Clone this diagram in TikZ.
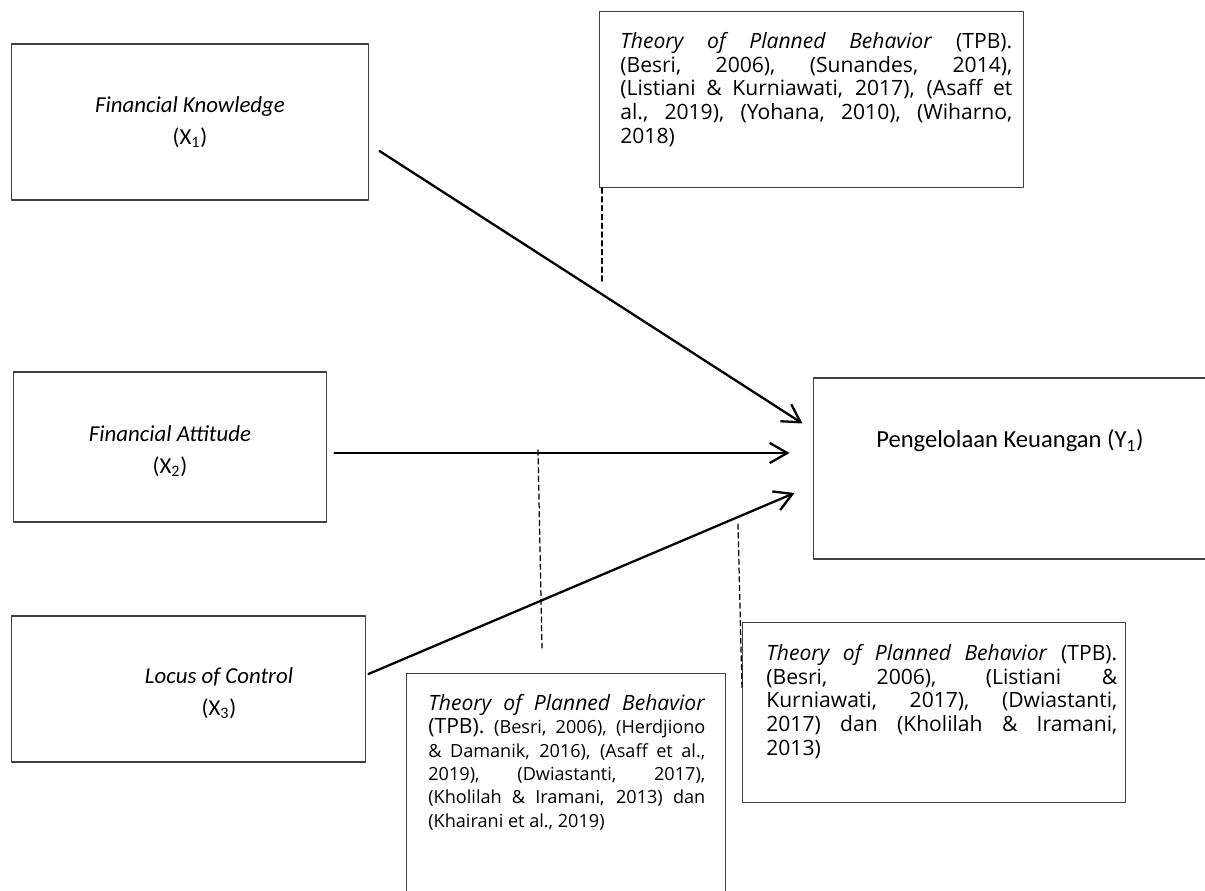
\documentclass[tikz,border=0pt]{standalone}
\usepackage{fontspec}
\setmainfont{Open Sans}
\newfontfamily\VarFont{Carlito}
\usepackage{xcolor}
\usepackage{tikz}
\usetikzlibrary{arrows.meta,positioning}
\definecolor{frame}{HTML}{404040}
\tikzset{
  VarText/.style={
    align=center, inner sep=0pt,
    font=\VarFont\fontsize{13}{18}\selectfont
  },
  VarBox/.style={VarText, draw=frame, line width=0.6pt},
  CiteBox/.style={draw=frame, line width=0.6pt, anchor=north west, inner sep=0pt},
  CiteText/.style={
    anchor=north west, inner sep=0pt,
    font=\fontsize{12}{13.5}\selectfont
  },
  PathArrow/.style={-{Straight Barb[length=10pt,width=11.5pt]}, line width=1.3pt},
  GuideLine/.style={line width=0.7pt, dash pattern=on 3pt off 2pt}
}
% one justified line of a citation box
\newcommand{\JustLine}[1]{\makebox[\linewidth][s]{#1}}
\newcommand{\CiteSmall}{\fontsize{10.3}{13.3}\selectfont}

\begin{document}
\begin{tikzpicture}[x=0.02cm, y=-0.02cm, line cap=round, line join=round]
  \useasboundingbox (0,0) rectangle (1205,891);
  \clip (0,0) rectangle (1205,891);

  % independent variables
  \node[VarBox, minimum width=7.16cm, minimum height=3.12cm] (X1) at (190,122)
    {\textit{Financial Knowledge}\\(X\textsubscript{1})};
  \node[VarBox, minimum width=6.28cm, minimum height=3cm] (X2) at (170,447) {};
  \node[VarText] (X2Text) at (170,451) {\textit{Financial Attitude}\\(X\textsubscript{2})};
  \node[VarBox, minimum width=7.1cm, minimum height=2.92cm] (X3) at (188.5,689) {};
  \node[VarText] (X3Text) at (219,693) {\textit{Locus of Control}\\(X\textsubscript{3})};

  % dependent variable
  \node[VarBox, minimum width=8.04cm, minimum height=3.62cm] (Y) at (1014,468.5) {};
  \node[VarText, font=\VarFont\fontsize{14}{18}\selectfont] (YText) at (1010,441)
    {Pengelolaan Keuangan (Y\textsubscript{1})};

  % theory boxes
  \node[CiteBox, minimum width=8.48cm, minimum height=3.52cm] (TPBa) at (599,11) {};
  \node[CiteText] (TPBaText) at (620,32) {\parbox[t]{7.84cm}{%
    \JustLine{\textit{Theory of Planned Behavior} (TPB).}\\
    \JustLine{(Besri, 2006), (Sunandes, 2014),}\\
    \JustLine{(Listiani \& Kurniawati, 2017), (Asaff et}\\
    \JustLine{al., 2019), (Yohana, 2010), (Wiharno,}\\
    2018)}};

  \node[CiteBox, minimum width=6.38cm, minimum height=5cm] (TPBb) at (406,673) {};
  \node[CiteText, font=\fontsize{12}{13.3}\selectfont] (TPBbText) at (428,694) {\parbox[t]{5.54cm}{%
    \JustLine{\textit{Theory of Planned Behavior}}\\
    \JustLine{(TPB). {\CiteSmall (Besri, 2006), (Herdjiono}}\\
    {\CiteSmall\JustLine{\& Damanik, 2016), (Asaff et al.,}}\\
    {\CiteSmall\JustLine{2019), (Dwiastanti, 2017),}}\\
    {\CiteSmall\JustLine{(Kholilah \& Iramani, 2013) dan}}\\
    {\CiteSmall (Khairani et al., 2019)}}};

  \node[CiteBox, minimum width=7.66cm, minimum height=3.6cm] (TPBc) at (742,622) {};
  \node[CiteText] (TPBcText) at (766,644) {\parbox[t]{7.02cm}{%
    \JustLine{\textit{Theory of Planned Behavior} (TPB).}\\
    \JustLine{(Besri, 2006), (Listiani \&}\\
    \JustLine{Kurniawati, 2017), (Dwiastanti,}\\
    \JustLine{2017) dan (Kholilah \& Iramani,}\\
    2013)}};

  % paths
  \draw[PathArrow] ([shift={(10,29)}]X1.east) -- ([shift={(-10,-45)}]Y.west);
  \draw[PathArrow] ([shift={(7,6)}]X2.east) -- ([shift={(-23,-15.5)}]Y.west);
  \draw[PathArrow] ([shift={(2,-15)}]X3.east) -- ([shift={(-18,24.5)}]Y.west);

  % guide lines to the theory boxes
  \coordinate (GuideA) at (602,283);
  \coordinate (GuideBtop) at (538,450);
  \coordinate (GuideBend) at (542,648);
  \coordinate (GuideCtop) at (738,524);
  \draw[GuideLine] ([shift={(3,0)}]TPBa.south west) -- (GuideA);
  \draw[GuideLine] (GuideBtop) -- (GuideBend);
  \draw[GuideLine] (GuideCtop) -- ([shift={(0,68)}]TPBc.north west);
\end{tikzpicture}
\end{document}
